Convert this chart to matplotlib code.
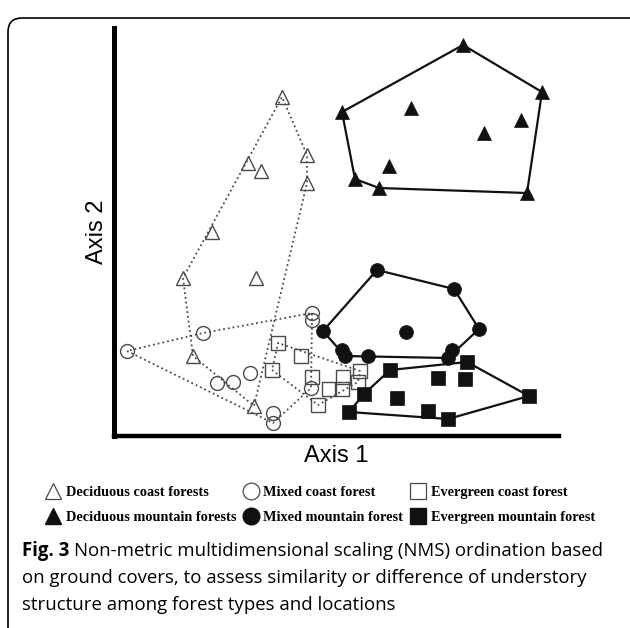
import matplotlib
matplotlib.use("Agg")
import matplotlib.pyplot as plt
from matplotlib.patches import FancyBboxPatch
from matplotlib.lines import Line2D
from matplotlib.transforms import IdentityTransform

# NMS scores (arbitrary units)
dec_coast_x = [168, 193, 193, 134, 147, 98, 69, 142, 79, 140]
dec_coast_y = [339, 281, 253, 273, 265, 204, 158, 158, 80, 30]

mix_coast_x = [13, 89, 198, 198, 103, 119, 136, 197, 159, 159]
mix_coast_y = [85, 103, 123, 116, 53, 54, 63, 48, 23, 13]

evg_coast_x = [164, 187, 158, 198, 215, 229, 228, 246, 204, 244]
evg_coast_y = [93, 80, 66, 59, 47, 59, 47, 65, 31, 54]

dec_mtn_x = [349, 428, 413, 265, 241, 228, 297, 407, 370, 275]
dec_mtn_y = [391, 344, 243, 248, 257, 324, 328, 316, 303, 270]

mix_mtn_x = [263, 340, 365, 292, 209, 228, 231, 254, 338, 334]
mix_mtn_y = [166, 147, 107, 104, 105, 86, 80, 80, 86, 78]

evg_mtn_x = [276, 353, 324, 351, 415, 250, 283, 235, 314, 334]
evg_mtn_y = [66, 74, 58, 57, 40, 42, 38, 24, 25, 17]

labels = ["Deciduous coast forests", "Mixed coast forest", "Evergreen coast forest",
          "Deciduous mountain forests", "Mixed mountain forest", "Evergreen mountain forest"]


def hull(xs, ys):
    pts = sorted(set(zip(xs, ys)))

    def cross(o, a, b):
        return (a[0] - o[0]) * (b[1] - o[1]) - (a[1] - o[1]) * (b[0] - o[0])

    lower, upper = [], []
    for p in pts:
        while len(lower) >= 2 and cross(lower[-2], lower[-1], p) <= 0:
            lower.pop()
        lower.append(p)
    for p in reversed(pts):
        while len(upper) >= 2 and cross(upper[-2], upper[-1], p) <= 0:
            upper.pop()
        upper.append(p)
    h = lower[:-1] + upper[:-1]
    h.append(h[0])
    return [p[0] for p in h], [p[1] for p in h]


fig = plt.figure(figsize=(6.3, 6.28), dpi=100)

# rounded frame around the figure panel
frame = FancyBboxPatch((8, -40), 680, 650, boxstyle="round,pad=0,rounding_size=14",
                       transform=IdentityTransform(), fill=False, edgecolor="black",
                       linewidth=1.2)
fig.patches.append(frame)

ax = fig.add_axes([114 / 630, 192 / 628, 445 / 630, 408 / 628])
ax.set_xlim(0, 445)
ax.set_ylim(0, 408)
for s in ["top", "right"]:
    ax.spines[s].set_visible(False)
ax.spines["left"].set_linewidth(3.6)
ax.spines["bottom"].set_linewidth(3.2)
ax.spines["left"].set_capstyle("projecting")
ax.spines["bottom"].set_capstyle("projecting")
ax.set_xticks([])
ax.set_yticks([])

grey = "#4a4a4a"
coast = [(dec_coast_x, dec_coast_y, "^"), (mix_coast_x, mix_coast_y, "o"),
         (evg_coast_x, evg_coast_y, "s")]
mtn = [(dec_mtn_x, dec_mtn_y, "^"), (mix_mtn_x, mix_mtn_y, "o"),
       (evg_mtn_x, evg_mtn_y, "s")]

for xs, ys, m in coast:
    hx, hy = hull(xs, ys)
    ax.plot(hx, hy, linestyle=":", color=grey, linewidth=1.3, zorder=2)
for xs, ys, m in mtn:
    hx, hy = hull(xs, ys)
    ax.plot(hx, hy, linestyle="-", color="#111111", linewidth=1.6, zorder=2)

coast_size = {"^": 10, "o": 10, "s": 10}
mtn_size = {"^": 9.5, "o": 10, "s": 10}
for xs, ys, m in coast:
    ax.plot(xs, ys, linestyle="none", marker=m, markersize=coast_size[m],
            markerfacecolor="none", markeredgecolor=grey, markeredgewidth=1.0, zorder=3)
for xs, ys, m in mtn:
    ax.plot(xs, ys, linestyle="none", marker=m, markersize=mtn_size[m],
            markerfacecolor="#111111", markeredgecolor="#111111", markeredgewidth=0.5, zorder=4)

fig.text(97 / 630, 1 - 232 / 628, "Axis 2", rotation=90, ha="center", va="center",
         family="Liberation Sans", fontsize=17)
fig.text(336 / 630, 1 - 456 / 628, "Axis 1", ha="center", va="center",
         family="Liberation Sans", fontsize=17)

# legend
handles = []
for (xs, ys, m), lab in zip(coast, labels[:3]):
    handles.append(Line2D([], [], linestyle="none", marker=m, markersize=12,
                          markerfacecolor="none", markeredgecolor=grey,
                          markeredgewidth=0.9, label=lab))
for (xs, ys, m), lab in zip(mtn, labels[3:]):
    handles.append(Line2D([], [], linestyle="none", marker=m, markersize=12,
                          markerfacecolor="#111111", markeredgecolor="#111111", label=lab))
order = [0, 3, 1, 4, 2, 5]
fig.legend([handles[i] for i in order], [handles[i].get_label() for i in order],
           ncol=3, loc="center", bbox_to_anchor=(320 / 630, 1 - 505 / 628),
           frameon=False, prop={"family": "Liberation Serif", "weight": "bold", "size": 10.3},
           handlelength=1.1, handletextpad=0.35, columnspacing=0.45, labelspacing=0.8,
           borderpad=0)

# caption
cap_x = 22 / 630
cap_y = [1 - 551 / 628, 1 - 578 / 628, 1 - 605 / 628]
cap_font = "Open Sans"
cap_size = 13.4
t = fig.text(cap_x, cap_y[0], "Fig. 3", family=cap_font, weight="bold",
             fontsize=cap_size, va="center")
fig.canvas.draw()
bb = t.get_window_extent(fig.canvas.get_renderer())
fig.text(bb.x1 / 630 + 5 / 630, cap_y[0],
         "Non-metric multidimensional scaling (NMS) ordination based",
         family=cap_font, fontsize=cap_size, va="center")
fig.text(cap_x, cap_y[1],
         "on ground covers, to assess similarity or difference of understory",
         family=cap_font, fontsize=cap_size, va="center")
fig.text(cap_x, cap_y[2], "structure among forest types and locations",
         family=cap_font, fontsize=cap_size, va="center")

fig.savefig("out.png", dpi=100)
